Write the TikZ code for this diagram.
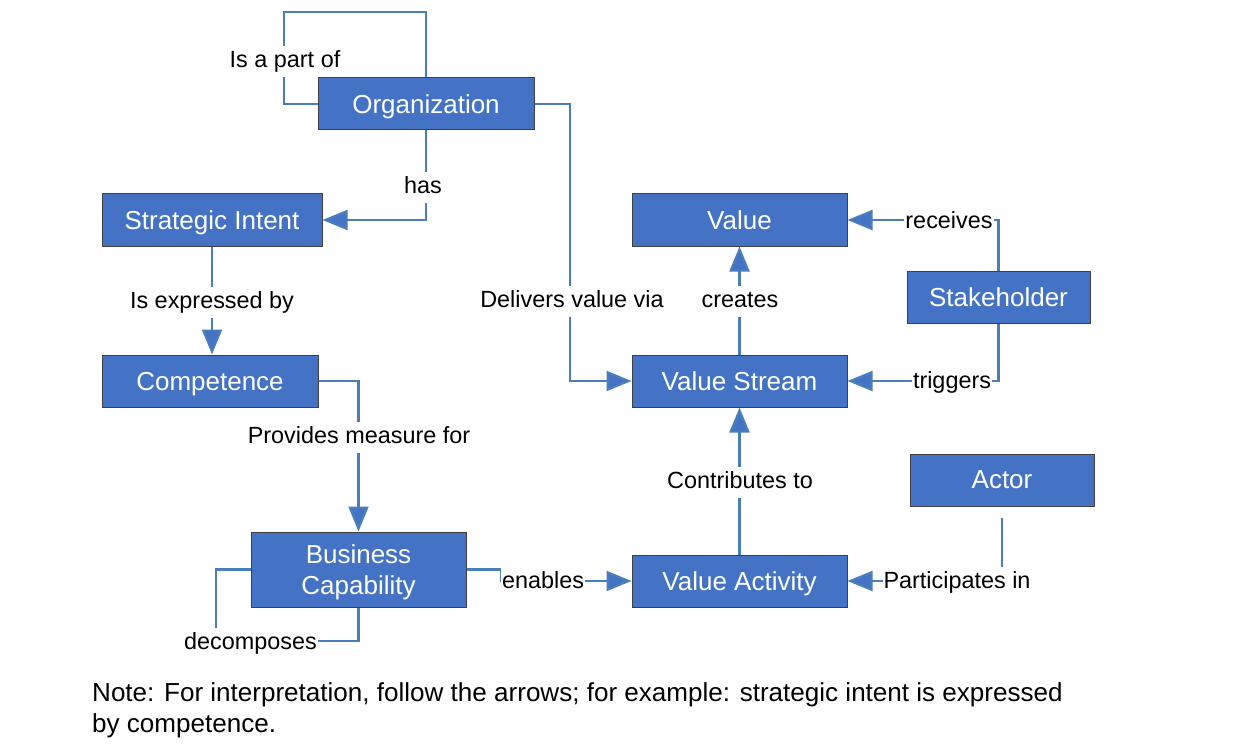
\documentclass[tikz,border=0pt]{standalone}
\usepackage{fontspec}
\setmainfont{Liberation Sans}
\usetikzlibrary{arrows.meta}
\definecolor{boxblue}{HTML}{4472C4}
\definecolor{linkblue}{HTML}{4A7EBB}
\tikzset{
  box/.style={draw=black!75, line width=1pt, fill=boxblue, text=white,
    font=\fontsize{26}{31}\selectfont, minimum width=#1, minimum height=52pt,
    inner sep=0pt, align=center, text depth=0pt},
  link/.style={draw=linkblue, line width=2.2pt},
  arr/.style={link, -{Triangle[length=25pt,width=20pt,fill=boxblue]}},
  lab/.style={fill=white, inner xsep=1pt, inner ysep=4.5pt, font=\fontsize{23.4}{28}\selectfont, text=black,
    text height=17pt, text depth=5pt, yshift=-2.3pt},
}
\begin{document}
\begin{tikzpicture}[x=1pt,y=-1pt]
\fill[white] (0,0) rectangle (1238,751);
\useasboundingbox (0,0) rectangle (1238,751);
% boxes
\node[box=216pt] (org) at (426,104) {Organization};
\node[box=220pt] (si) at (212,220) {Strategic Intent};
\node[box=216pt] (comp) at (210,381) {Competence};
\node[box=215pt, minimum height=75pt] (bc) at (358.5,569.5) {Business\\Capability};
\node[box=215pt] (val) at (739.5,220) {Value};
\node[box=183pt] (sh) at (998.5,297) {Stakeholder};
\node[box=215pt] (vs) at (739.5,381) {Value Stream};
\node[box=184pt] (actor) at (1002,480) {Actor};
\node[box=215pt] (va) at (739.5,581) {Value Activity};
% connectors
\draw[link] (org.north) |- (284,12) |- (org.west);
\draw[arr] (org.south) |- (si.east);
\draw[arr] (si.south) -- (si.south |- comp.north);
\draw[arr] (comp.east) -| (bc.north);
\draw[link] (bc.west) -| (216,641) -| (bc.south);
\draw[arr] (bc.east) -- (501,569.5) |- (va.west);
\draw[arr] (org.east) -| (570,381) -- (vs.west);
\draw[arr] (vs.north) -- (val.south);
\draw[arr] (sh.north) |- (val.east);
\draw[arr] (sh.south) |- (vs.east);
\draw[arr] (va.north) -- (vs.south);
\draw[arr, shorten <=11pt] (actor.south) |- (va.east);
% labels
\node[lab] (l1) at (285,59) {Is a part of};
\node[lab] (l2) at (423,185) {has};
\node[lab] (l3) at (212,300) {Is expressed by};
\node[lab] (l4) at (359,435) {Provides measure for};
\node[lab] (l5) at (250.5,641) {decomposes};
\node[lab] (l6) at (543,580) {enables};
\node[lab] (l7) at (572,299) {Delivers value via};
\node[lab] (l8) at (740,299) {creates};
\node[lab] (l9) at (949,220) {receives};
\node[lab] (l10) at (952,380) {triggers};
\node[lab] (l11) at (740,480) {Contributes to};
\node[lab] (l12) at (957,580) {Participates in};
% note
\node[anchor=north west, align=left, inner sep=0pt, font=\fontsize{26.05}{31}\selectfont] (note) at (92,682)
  {Note: For interpretation, follow the arrows; for example: strategic intent is expressed\\by competence.};
\end{tikzpicture}
\end{document}
